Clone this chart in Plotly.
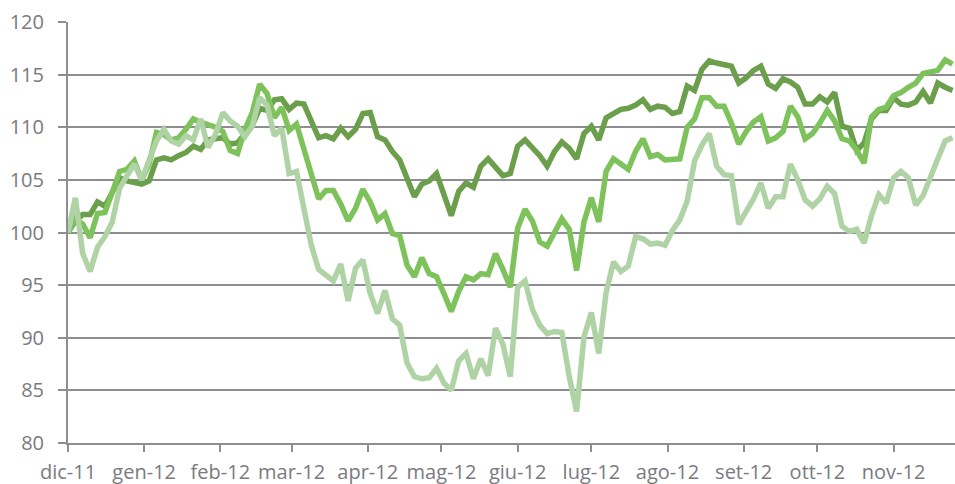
import pandas as pd
import plotly.graph_objects as go

# Observation dates (every 3 days, Dec 2011 – Nov 2012)
dates = pd.date_range("2011-12-01", periods=121, freq="3D")

serie_scura = [
    100, 101.1, 101.7, 101.7, 102.9, 102.5, 103.8, 105.2, 104.9, 104.8,
    104.6, 104.9, 106.9, 107.1, 106.9, 107.3, 107.6, 108.2, 107.9, 108.8,
    108.9, 109.0, 108.4, 108.5, 109.4, 110.2, 111.8, 111.6, 112.6, 112.7,
    111.7, 112.3, 112.2, 110.6, 109.0, 109.2, 108.9, 109.9, 109.1, 109.8,
    111.3, 111.4, 109.1, 108.8, 107.7, 106.9, 105.0, 103.4, 104.6, 104.9,
    105.6, 103.7, 101.6, 103.9, 104.7, 104.3, 106.3, 107.0, 106.1, 105.4,
    105.6, 108.2, 108.8, 108.0, 107.3, 106.3, 107.7, 108.6, 108.0, 107.0,
    109.4, 110.1, 108.8, 110.9, 111.3, 111.7, 111.8, 112.1, 112.6, 111.7,
    112.0, 111.9, 111.3, 111.5, 113.9, 113.5, 115.5, 116.3, 116.1, 116.0,
    115.8, 114.2, 114.7, 115.4, 115.8, 114.1, 113.7, 114.6, 114.3, 113.8,
    112.2, 112.2, 112.9, 112.4, 113.3, 110.1, 109.9, 107.8, 108.5, 110.8,
    111.6, 111.6, 112.8, 112.2, 112.1, 112.4, 113.4, 112.3, 114.2, 113.8,
    113.5,
]

serie_media = [
    100, 101.3, 100.8, 99.5, 101.8, 101.9, 103.8, 105.8, 106.0, 106.8,
    105.0, 106.5, 109.5, 109.3, 108.8, 109.0, 109.8, 110.8, 110.5, 110.3,
    110.0, 109.6, 107.8, 107.5, 109.8, 111.4, 114.1, 113.2, 110.9, 111.9,
    109.7, 110.3, 108.0, 105.4, 103.2, 104.0, 104.0, 102.7, 101.1, 102.3,
    104.1, 102.9, 101.2, 101.8, 99.9, 99.7, 96.9, 95.8, 97.6, 96.1,
    95.8, 94.2, 92.5, 94.4, 95.8, 95.5, 96.1, 96.0, 98.0, 96.5,
    94.8, 100.4, 102.2, 101.1, 99.1, 98.7, 99.9, 101.3, 100.3, 96.4,
    101.0, 103.3, 101.0, 105.8, 107.0, 106.5, 106.0, 107.7, 108.9, 107.2,
    107.4, 106.9, 106.9, 107.0, 110.0, 110.8, 112.8, 112.8, 112.0, 112.0,
    110.4, 108.4, 109.6, 110.5, 111.0, 108.7, 109.0, 109.6, 112.0, 111.0,
    108.9, 109.4, 110.4, 111.6, 110.6, 108.9, 108.7, 107.8, 106.6, 111.0,
    111.7, 111.9, 113.0, 113.3, 113.8, 114.2, 115.1, 115.2, 115.4, 116.4,
    116.0,
]

serie_chiara = [
    100, 103.3, 98.0, 96.3, 98.6, 99.6, 101.0, 104.2, 105.4, 106.5,
    105.0, 106.8, 108.7, 109.8, 108.7, 108.4, 109.2, 108.8, 110.8, 108.1,
    109.3, 111.4, 110.6, 110.1, 109.1, 110.1, 112.8, 112.1, 109.2, 109.9,
    105.6, 105.8, 102.3, 98.8, 96.5, 96.0, 95.4, 97.0, 93.5, 96.6,
    97.4, 94.2, 92.3, 94.5, 91.8, 91.2, 87.6, 86.3, 86.1, 86.2,
    87.1, 85.7, 85.0, 87.8, 88.5, 86.1, 88.0, 86.4, 90.9, 89.4,
    86.3, 94.8, 95.4, 92.7, 91.2, 90.4, 90.6, 90.5, 86.3, 83.0,
    90.1, 92.4, 88.5, 94.3, 97.2, 96.3, 96.8, 99.6, 99.4, 98.9,
    99.0, 98.8, 100.2, 101.2, 103.0, 106.8, 108.3, 109.4, 106.3, 105.5,
    105.4, 100.8, 102.0, 103.2, 104.7, 102.3, 103.4, 103.4, 106.5, 105.0,
    103.1, 102.5, 103.2, 104.4, 103.7, 100.6, 100.1, 100.3, 99.0, 101.6,
    103.6, 102.8, 105.2, 105.8, 105.2, 102.6, 103.5, 105.4, 107.0, 108.7,
    109.0,
]

tick_dates = pd.date_range("2011-12-01", periods=12, freq="MS")
tick_labels = ["dic-11", "gen-12", "feb-12", "mar-12", "apr-12", "mag-12",
               "giu-12", "lug-12", "ago-12", "set-12", "ott-12", "nov-12"]
y_ticks = [80, 85, 90, 95, 100, 105, 110, 115, 120]

GRID = "#8d8d92"
TXT = "#7a7a80"

fig = go.Figure()
for vals, col in [(serie_scura, "#6b9f4b"),
                  (serie_media, "#7dc25b"),
                  (serie_chiara, "#b0d3a6")]:
    fig.add_trace(go.Scatter(x=dates, y=vals, mode="lines",
                             line=dict(color=col, width=5.5),
                             showlegend=False, hoverinfo="skip"))

fig.update_layout(
    width=955, height=484,
    margin=dict(l=68, r=0, t=22, b=41, autoexpand=False),
    paper_bgcolor="white", plot_bgcolor="white",
    font=dict(family="Open Sans", size=19, color=TXT),
)
fig.update_xaxes(
    range=[pd.Timestamp("2011-12-01"), pd.Timestamp("2012-11-26")],
    tickmode="array", tickvals=tick_dates, ticktext=tick_labels,
    showgrid=False, showline=True, linecolor=GRID, linewidth=2,
    ticks="outside", ticklen=7, tickwidth=2, tickcolor=GRID,
    tickfont=dict(size=20, color=TXT), ticklabelstandoff=3,
    automargin=False,
)
fig.update_yaxes(
    range=[80, 120], tickmode="array", tickvals=y_ticks,
    showgrid=True, gridcolor=GRID, gridwidth=2,
    showline=True, linecolor=GRID, linewidth=2,
    ticks="outside", ticklen=8, tickwidth=2, tickcolor=GRID,
    tickfont=dict(size=20, color=TXT), ticklabelstandoff=10,
    zeroline=False, automargin=False,
)

fig.write_html("out.html",
               config={"displayModeBar": False},
               post_script="document.body.style.margin='0';"
                           "document.body.style.overflow='hidden';")
